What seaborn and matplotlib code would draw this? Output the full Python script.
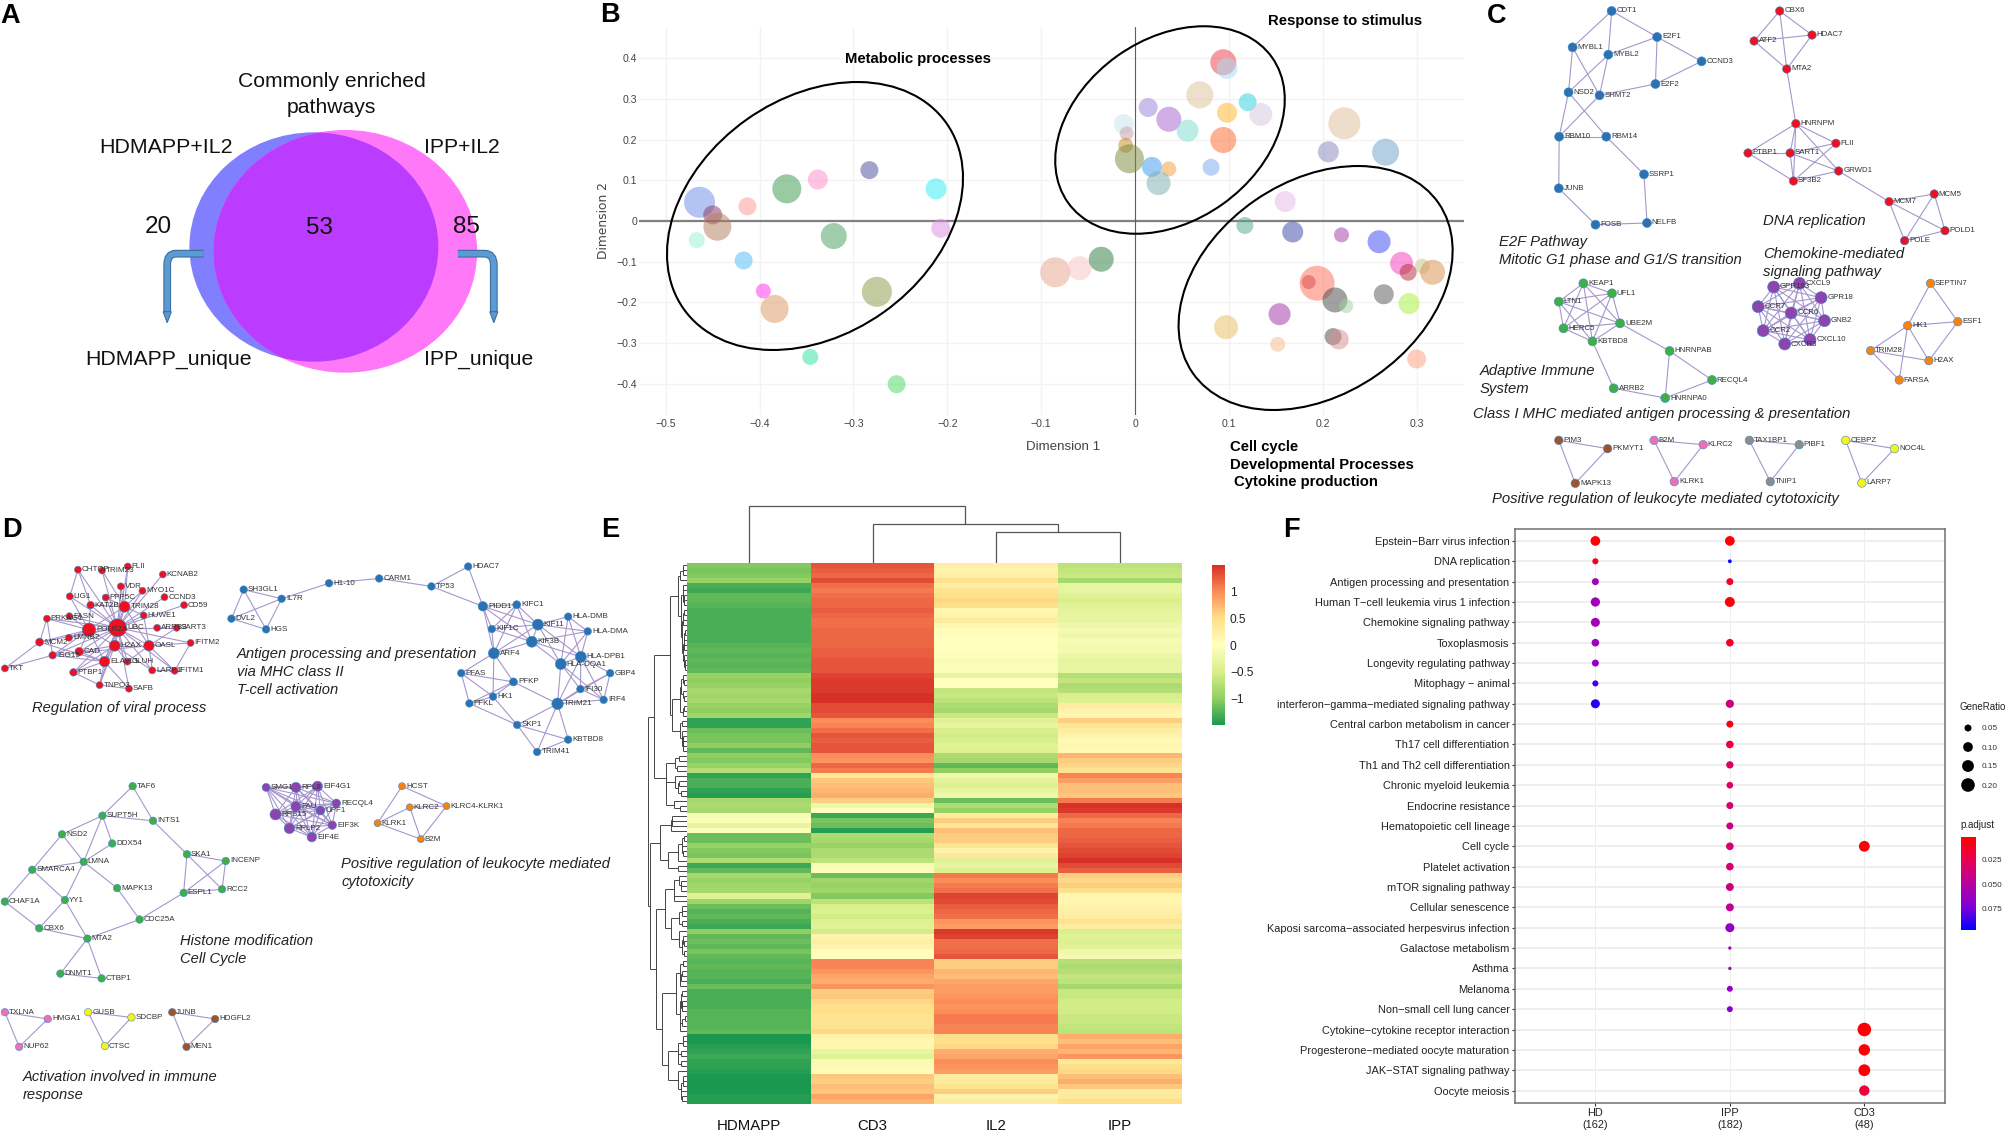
import itertools
import numpy as np
import pandas as pd
import matplotlib
matplotlib.use("Agg")
import matplotlib.pyplot as plt
from matplotlib.collections import LineCollection
from matplotlib.colors import LinearSegmentedColormap, Normalize
from matplotlib.cm import ScalarMappable
from matplotlib.patches import Ellipse, PathPatch, Polygon
from matplotlib.path import Path
import seaborn as sns

# ---------- panel A ----------
VENN_COUNTS = ["20", "53", "85"]
VENN_SET_LABELS = ["HDMAPP+IL2", "IPP+IL2"]
VENN_UNIQUE_LABELS = ["HDMAPP_unique", "IPP_unique"]

# ---------- panel B ----------
B_X = [-.464, -.450, -.445, -.413, -.467, -.417, -.396, -.384, -.371, -.338, -.283, -.321, -.275, -.212, -.207, -.346, -.254,
       -.085, -.059, -.036,
       .094, .098, .069, .120, .014, .036, .098, .134, -.012, .056, -.009, .094, -.010, -.006, .018, .036, .081, .025,
       .223, .206, .267,
       .160, .117, .168, .220, .260, .284, .306, .291, .317, .194, .185, .213, .225, .265, .292, .154, .097, .152, .211, .217, .300]
B_Y = [.046, .015, -.014, .036, -.047, -.097, -.172, -.216, .079, .102, .125, -.037, -.174, .079, -.018, -.334, -.401,
       -.126, -.116, -.094,
       .390, .375, .310, .292, .279, .250, .266, .262, .238, .222, .215, .199, .186, .153, .133, .128, .132, .093,
       .240, .170, .169,
       .048, -.011, -.027, -.034, -.051, -.104, -.111, -.126, -.126, -.153, -.150, -.194, -.209, -.180, -.203, -.229, -.261, -.303, -.284, -.291, -.339]
B_DIAM = [31, 19, 28, 18, 16, 18, 15, 28, 29, 20, 18, 26, 30, 21, 19, 16, 18,
          30, 24, 25,
          26, 21, 27, 18, 19, 25, 20, 23, 20, 22, 14, 26, 15, 29, 20, 15, 17, 24,
          32, 21, 27,
          21, 17, 21, 15, 23, 23, 15, 17, 25, 35, 14, 25, 14, 20, 21, 22, 24, 15, 17, 20, 19]
B_COLORS = ["#6E8FE8", "#8B3A62", "#B57F5F", "#FF9A90", "#9AF0D8", "#4FBFF5", "#FF33EE", "#D99B62", "#3E9A4E", "#FF8CCB", "#4B4F9C",
            "#4B9F62", "#8C9C4A", "#33EEF5", "#DD8FE0", "#2FE39E", "#4FD867",
            "#E8A68E", "#FBC4C4", "#2E8040",
            "#F0404A", "#A8DCF5", "#E0C29A", "#30D2DE", "#9A85D8", "#A765CE", "#FFB52E", "#D8C6E0", "#C9E5EC", "#7EDDD0", "#C9A0A8",
            "#FF6A30", "#C98E27", "#7F8A3C", "#3E9AF0", "#F5A040", "#7FA8EE", "#7FAFAF",
            "#DDBE9A", "#8886BE", "#6FA3CC",
            "#E8B8E8", "#58A98A", "#3E49A8", "#A23FA8", "#3E4CF5", "#F53FBE", "#C7C78E", "#B5303C", "#D9924F", "#FF6F5C", "#D8504A",
            "#4C4C4C", "#A0D0A0", "#5A5A5A", "#A8F040", "#A335A8", "#E8BE60", "#F5BE8A", "#4C4C4C", "#D99090", "#FF9F80"]
B_XTICKS = [-.5, -.4, -.3, -.2, -.1, 0, .1, .2, .3]
B_XTICKLABELS = ["\u22120.5", "\u22120.4", "\u22120.3", "\u22120.2", "\u22120.1", "0", "0.1", "0.2", "0.3"]
B_YTICKS = [-.4, -.3, -.2, -.1, 0, .1, .2, .3, .4]
B_YTICKLABELS = ["\u22120.4", "\u22120.3", "\u22120.2", "\u22120.1", "0", "0.1", "0.2", "0.3", "0.4"]

# ---------- panel C networks ----------
C_BLUE = ["CDT1", "E2F1", "MYBL1", "MYBL2", "CCND3", "E2F2", "NSD2", "SHMT2", "RBM10", "RBM14", "SSRP1", "JUNB", "FOSB", "NELFB"]
C_BLUE_X = [391, 526, 275, 381, 658, 521, 263, 355, 235, 375, 487, 234, 343, 496]
C_BLUE_Y = [33, 111, 142, 164, 184, 252, 277, 286, 410, 410, 523, 565, 674, 669]
C_BLUE_E = "CDT1:MYBL1 CDT1:MYBL2 CDT1:E2F1 E2F1:MYBL2 E2F1:E2F2 E2F1:CCND3 CCND3:E2F2 E2F2:SHMT2 MYBL1:NSD2 MYBL1:SHMT2 MYBL2:NSD2 MYBL2:SHMT2 NSD2:RBM10 NSD2:RBM14 SHMT2:RBM10 RBM10:RBM14 RBM10:JUNB RBM14:SSRP1 SSRP1:NELFB NELFB:FOSB FOSB:JUNB"
C_RED = ["CBX6", "HDAC7", "ATF2", "MTA2", "HNRNPM", "FLII", "PTBP1", "SART1", "GRWD1", "SF3B2", "MCM7", "MCM5", "POLD1", "POLE"]
C_RED_X = [890, 986, 814, 911, 938, 1057, 796, 921, 1065, 931, 1215, 1349, 1381, 1261]
C_RED_Y = [33, 105, 123, 207, 371, 430, 459, 459, 513, 543, 605, 582, 692, 722]
C_RED_E = "CBX6:ATF2 CBX6:HDAC7 CBX6:MTA2 ATF2:HDAC7 ATF2:MTA2 HDAC7:MTA2 MTA2:HNRNPM HNRNPM:FLII HNRNPM:PTBP1 HNRNPM:SART1 HNRNPM:SF3B2 HNRNPM:GRWD1 FLII:SART1 FLII:SF3B2 PTBP1:SART1 PTBP1:SF3B2 SART1:SF3B2 SART1:GRWD1 GRWD1:SF3B2 GRWD1:MCM7 MCM7:MCM5 MCM7:POLD1 MCM7:POLE MCM5:POLD1 MCM5:POLE POLD1:POLE"
C_GREEN = ["KEAP1", "UFL1", "LTN1", "UBE2M", "HERC5", "KBTBD8", "HNRNPAB", "RECQL4", "ARRB2", "HNRNPA0"]
C_GREEN_X = [307, 392, 234, 416, 248, 334, 563, 689, 397, 550]
C_GREEN_Y = [850, 880, 905, 970, 985, 1024, 1053, 1140, 1165, 1194]
C_GREEN_E = "KEAP1:UFL1 KEAP1:LTN1 KEAP1:UBE2M KEAP1:HERC5 KEAP1:KBTBD8 UFL1:LTN1 UFL1:UBE2M UFL1:HERC5 UFL1:KBTBD8 LTN1:UBE2M LTN1:HERC5 LTN1:KBTBD8 UBE2M:HERC5 UBE2M:KBTBD8 HERC5:KBTBD8 UBE2M:HNRNPAB KBTBD8:ARRB2 ARRB2:HNRNPA0 HNRNPAB:HNRNPA0 HNRNPAB:RECQL4 RECQL4:HNRNPA0"
C_PURPLE = ["GPR183", "CXCL9", "GPR18", "CCR7", "CCR6", "GNB2", "CCR2", "CXCL10", "CXCR3"]
C_PURPLE_X = [872, 949, 1013, 826, 924, 1023, 841, 980, 905]
C_PURPLE_Y = [861, 850, 893, 920, 939, 962, 992, 1019, 1032]
C_ORANGE = ["SEPTIN7", "ESF1", "HK1", "TRIM28", "H2AX", "FARSA"]
C_ORANGE_X = [1338, 1419, 1270, 1160, 1333, 1245]
C_ORANGE_Y = [850, 965, 977, 1052, 1082, 1140]
C_ORANGE_E = "SEPTIN7:HK1 SEPTIN7:ESF1 HK1:ESF1 HK1:TRIM28 HK1:H2AX HK1:FARSA ESF1:H2AX TRIM28:H2AX TRIM28:FARSA"
C_BROWN = ["PIM3", "PKMYT1", "MAPK13"]
C_BROWN_X = [234, 379, 283]
C_BROWN_Y = [1321, 1346, 1450]
C_PINK = ["B2M", "KLRC2", "KLRK1"]
C_PINK_X = [517, 663, 577]
C_PINK_Y = [1321, 1334, 1445]
C_GRAY = ["TAX1BP1", "PIBF1", "TNIP1"]
C_GRAY_X = [800, 948, 862]
C_GRAY_Y = [1321, 1334, 1445]
C_YELLOW = ["CEBPZ", "NOC4L", "LARP7"]
C_YELLOW_X = [1086, 1231, 1134]
C_YELLOW_Y = [1321, 1346, 1449]

# ---------- panel D networks ----------
D_RED = ["CHTOP", "TRIM23", "FLII", "KCNAB2", "VDR", "MYO1C", "LIG1", "PPP5C", "CCND3", "CD59", "KAT2B", "TRIM28", "FASN", "PRKAG1", "HUWE1",
         "UBC", "POLR2A", "ARRB2", "SART3", "LMNB2", "MCM2", "IFITM2", "H2AX", "OASL", "CAD", "ISG15", "ELAVL1", "GLUH", "LARP1", "IFITM1",
         "TKT", "PTBP1", "TNPO3", "SAFB"]
D_RED_X = [191, 250, 313, 399, 296, 349, 171, 259, 403, 451, 222, 305, 170, 115, 352,
           288, 218, 385, 433, 169, 97, 467, 281, 365, 194, 129, 256, 312, 373, 428,
           12, 180, 244, 316]
D_RED_Y = [150, 152, 142, 162, 192, 203, 217, 220, 219, 239, 239, 243, 267, 273, 265,
           296, 301, 296, 296, 321, 332, 334, 341, 341, 356, 365, 381, 381, 403, 404,
           398, 408, 440, 449]
D_RED_D = [7, 7, 7, 7, 7, 7, 7, 7, 7, 7, 7.5, 11, 7, 7, 7,
           18, 13.5, 7, 7, 7, 8, 7, 11, 10.5, 8.5, 7.5, 10.5, 7, 7, 7,
           7, 7.5, 7, 7]
D_RED_HUBS = {
    "UBC": "CHTOP TRIM23 FLII KCNAB2 VDR MYO1C LIG1 PPP5C CCND3 CD59 KAT2B TRIM28 FASN PRKAG1 HUWE1 POLR2A ARRB2 SART3 LMNB2 MCM2 IFITM2 H2AX OASL CAD ISG15 ELAVL1 GLUH LARP1 IFITM1 PTBP1 TNPO3 SAFB",
    "POLR2A": "FASN PRKAG1 LMNB2 MCM2 ISG15 CAD ELAVL1 H2AX KAT2B TRIM28 LIG1",
    "TRIM28": "VDR FLII PPP5C KAT2B HUWE1 H2AX ELAVL1 OASL MYO1C TRIM23",
    "H2AX": "ELAVL1 OASL CAD TNPO3 GLUH LARP1 PTBP1",
    "OASL": "IFITM2 IFITM1 LARP1 ISG15 SART3 GLUH HUWE1",
    "ELAVL1": "PTBP1 TNPO3 SAFB ISG15 MCM2 CAD",
    "TKT": "MCM2 ISG15",
    "CHTOP": "LIG1 KAT2B",
    "IFITM1": "IFITM2 LARP1",
    "TNPO3": "PTBP1 SAFB",
    "PRKAG1": "MCM2 ISG15",
}
D_BLUE = ["SH3GL1", "IL7R", "DVL2", "HGS", "H1-10", "CARM1", "TP53", "HDAC7", "PIDD1", "KIFC1", "HLA-DMB", "KIF11", "HLA-DMA", "KIF1C", "KIF3B",
          "ARF4", "HLA-DPB1", "HLA-DQA1", "PFAS", "GBP4", "PFKP", "IFI30", "HK1", "IRF4", "PFKL", "TRIM21", "SKP1", "KBTBD8", "TRIM41"]
D_BLUE_X = [597, 690, 567, 652, 806, 929, 1057, 1147, 1183, 1266, 1392, 1318, 1440, 1205, 1303,
            1210, 1423, 1374, 1130, 1495, 1258, 1422, 1208, 1479, 1150, 1366, 1267, 1392, 1316]
D_BLUE_Y = [200, 223, 273, 300, 184, 172, 192, 142, 242, 238, 268, 288, 305, 299, 331,
            360, 369, 387, 410, 410, 432, 450, 469, 477, 486, 487, 540, 577, 608]
D_BLUE_D = [7.5, 7.5, 7.5, 7.5, 7.5, 7.5, 7.5, 7.5, 9.5, 8, 7.5, 11, 7.5, 7.5, 11,
            11, 11, 11, 7.5, 7.5, 8, 7.5, 7.5, 7.5, 7.5, 11.5, 7.5, 7.5, 7.5]
D_BLUE_E = "SH3GL1:IL7R SH3GL1:DVL2 SH3GL1:HGS IL7R:DVL2 IL7R:HGS DVL2:HGS IL7R:H1-10 H1-10:CARM1 CARM1:TP53 TP53:HDAC7 TP53:PIDD1 HDAC7:PIDD1 PIDD1:KIFC1 PIDD1:KIF11 PIDD1:KIF1C PIDD1:KIF3B PIDD1:ARF4 KIFC1:KIF11 KIFC1:KIF1C KIFC1:KIF3B KIFC1:ARF4 KIF11:KIF1C KIF11:KIF3B KIF11:ARF4 KIF1C:KIF3B KIF1C:ARF4 KIF3B:ARF4 ARF4:HK1 ARF4:PFAS ARF4:PFKP KIF11:HLA-DMB KIF11:HLA-DMA KIF11:HLA-DPB1 KIF11:HLA-DQA1 KIF3B:HLA-DMA KIF3B:HLA-DPB1 KIF3B:HLA-DQA1 HLA-DMB:HLA-DMA HLA-DMB:HLA-DPB1 HLA-DMB:HLA-DQA1 HLA-DMA:HLA-DPB1 HLA-DMA:HLA-DQA1 HLA-DPB1:HLA-DQA1 HLA-DPB1:IFI30 HLA-DPB1:GBP4 HLA-DPB1:IRF4 HLA-DQA1:IFI30 HLA-DQA1:TRIM21 HLA-DQA1:IRF4 HLA-DPB1:TRIM21 GBP4:IFI30 GBP4:IRF4 GBP4:TRIM21 IFI30:IRF4 IFI30:TRIM21 IRF4:TRIM21 TRIM21:SKP1 TRIM21:KBTBD8 TRIM21:TRIM41 SKP1:KBTBD8 SKP1:TRIM41 KBTBD8:TRIM41 PFKP:TRIM21 PFAS:PFKP PFAS:HK1 PFAS:PFKL PFKP:HK1 PFKP:PFKL HK1:PFKL HK1:SKP1 PFKL:SKP1"
D_GREEN = ["TAF6", "SUPT5H", "INTS1", "NSD2", "DDX54", "SKA1", "INCENP", "LMNA", "SMARCA4", "MAPK13", "RCC2", "ESPL1", "CHAF1A", "YY1", "CDC25A", "CBX6", "MTA2", "DNMT1", "CTBP1"]
D_GREEN_X = [325, 251, 375, 152, 275, 458, 553, 205, 79, 287, 544, 450, 12, 159, 342, 96, 214, 148, 249]
D_GREEN_Y = [694, 768, 781, 815, 838, 865, 882, 884, 904, 950, 953, 962, 984, 980, 1029, 1051, 1077, 1165, 1177]
D_GREEN_E = "TAF6:SUPT5H TAF6:INTS1 SUPT5H:INTS1 SUPT5H:NSD2 SUPT5H:DDX54 SUPT5H:LMNA NSD2:LMNA NSD2:SMARCA4 DDX54:LMNA LMNA:SMARCA4 LMNA:MAPK13 LMNA:YY1 SMARCA4:CHAF1A SMARCA4:YY1 CHAF1A:CBX6 YY1:CBX6 YY1:MTA2 CBX6:MTA2 MTA2:CDC25A MTA2:DNMT1 MTA2:CTBP1 DNMT1:CTBP1 MAPK13:CDC25A CDC25A:ESPL1 ESPL1:SKA1 ESPL1:INCENP ESPL1:RCC2 SKA1:INCENP SKA1:RCC2 INCENP:RCC2 INTS1:SKA1"
D_PURPLE = ["SMG1", "RPL8", "EIF4G1", "RECQL4", "FAU", "UPF1", "RPS15", "EIF3K", "RPLP2", "EIF4E"]
D_PURPLE_X = [652, 725, 778, 824, 725, 785, 675, 814, 709, 764]
D_PURPLE_Y = [697, 697, 694, 737, 745, 755, 765, 792, 800, 822]
D_PURPLE_D = [8, 10, 10, 8.5, 10, 9, 11, 8.5, 10.5, 9.5]
D_ORANGE = ["HCST", "KLRC2", "KLRC4-KLRK1", "KLRK1", "B2M"]
D_ORANGE_X = [985, 1004, 1094, 925, 1031]
D_ORANGE_Y = [694, 747, 744, 787, 827]
D_ORANGE_E = "HCST:KLRC4-KLRK1 HCST:KLRK1 KLRC2:KLRC4-KLRK1 KLRC2:KLRK1 KLRC2:B2M KLRC4-KLRK1:B2M KLRK1:B2M"
D_PINK = ["TXLNA", "HMGA1", "NUP62"]
D_PINK_X = [12, 117, 47]
D_PINK_Y = [1262, 1279, 1349]
D_YELLOW = ["GUSB", "SDCBP", "CTSC"]
D_YELLOW_X = [216, 322, 257]
D_YELLOW_Y = [1262, 1275, 1347]
D_BROWN = ["JUNB", "HDGFL2", "MEN1"]
D_BROWN_X = [422, 527, 457]
D_BROWN_Y = [1262, 1279, 1349]

# ---------- panel E ----------
E_COLUMNS = ["HDMAPP", "CD3", "IL2", "IPP"]
E_HDMAPP = [-1.05, -1.1, -1.05, -.95, -1.3, -1.35, -1.2, -1.2, -1.25, -1.3, -1.3, -1.3, -1.3, -1.3, -1.3, -1.3, -1.25, -1.2, -1.25, -1.2, -1.25, -1.2,
            -.95, -1, -.95, -.85, -.9, -.85, -.95, -1.0, -.9,
            -1.4, -1.4, -1.15, -1.1, -1.1, -1.0, -1.2,
            -1.0, -1.05, -.95, -.75,
            -1.4, -1.3, -1.3, -1.4, -1.45,
            -.85, -.8, -.85,
            -.1, -.05, -.3, -.05,
            -1.15, -1.15, -.95, -1.05, -1.1, -.8, -1.35, -1.2,
            -.85, -.95, -.9, -.85, -.4, -.9, -1.15, -1.25, -1.2, -1.3, -1.35, -1.0, -1.2, -1.15, -1.2, -1.1, -1.2,
            -1.25, -1.2, -1.25, -1.25, -1.3, -1.15, -1.3, -1.3, -1.3, -1.3, -1.25, -1.25, -1.25, -1.25, -1.2,
            -1.5, -1.5, -1.45, -1.4, -1.35, -1.4, -1.4, -1.45,
            -1.5, -1.5, -1.5, -1.5, -1.45, -1.45]
E_CD3 = [1.3, 1.25, 1.2, 1.35, 1.15, 1.1, 1.15, 1.2, 1.2, 1.25, 1.2, 1.15, 1.15, 1.2, 1.2, 1.2, 1.2, 1.25, 1.25, 1.3, 1.3, 1.3,
         1.4, 1.45, 1.45, 1.45, 1.55, 1.55, 1.35, 1.35, 1.3,
         1.0, 1.05, 1.15, 1.3, 1.25, 1.3, 1.3,
         1.0, .95, 1.2, 1.1,
         .4, .65, .7, .75, .8,
         .6, -.2, 0,
         -1.35, -1.1, -1.15, -1.45,
         -.8, -.85, -.95, -.8, -.8, -.7, -.1, -.05,
         -1.15, -.9, -.95, -.9, -1.05, -.7, -.5, -.45, -.55, -.45, -.4, -.55, .2, .25, .2, .02, .02,
         1.05, 1.05, .95, .85, .8, .95, .6, .65, .55, .5, .5, .45, .45, .45, .55,
         .2, .15, .15, -.3, -.4, -.1, .1, .05,
         .65, .6, .7, .65, .85, .75]
E_IL2 = [.25, .2, .25, .45, .3, .45, .5, .55, .5, .15, .2, .3, .15, .05, .02, 0, .02, -.02, -.05, -.1, -.08, -.05,
         -.3, 0, .02, -.65, -.6, -.7, -.8, -.85, -.6,
         -.4, -.3, -.5, -.55, -.5, -.4, -.45,
         -.8, -.85, -1.2, -1.0,
         -.2, -.35, -.45, -.3, -.2,
         -1.15, -.8, -.95,
         .3, .6, .4, .7,
         .6, .6, .45, .2, .35, -.4, -.3, -.45,
         1.1, 1.0, 1.1, 1.15, 1.4, 1.35, 1.25, 1.2, 1.15, .95, .9, 1.45, 1.4, 1.15, 1.15, 1.2, 1.3,
         .6, .6, .75, .7, .85, .9, .9, .95, 1.0, .95, 1.0, 1.1, 1.1, 1.05, 1.05,
         .5, .5, .55, .8, .85, 1.0, .95, .9,
         .3, .35, .45, .6, .2, .3]
E_IPP = [-.7, -.65, -.6, -.85, -.3, -.3, -.4, -.5, -.4, -.35, -.3, -.3, -.2, -.15, -.2, -.1, -.15, -.15, -.25, -.3, -.3, -.3,
         -.75, -.65, -.8, -.75, -.5, -.45, .3, .2, .15,
         .6, .4, .3, .2, .1, .15, .1,
         .75, .6, .55, .45,
         1.05, .9, .7, .7, .65,
         1.1, 1.5, 1.45,
         1.2, 1.05, 1.1, 1.2,
         1.2, 1.25, 1.3, 1.35, 1.4, 1.5, 1.35, 1.25,
         .6, .55, .6, .5, .15, .15, .2, .25, .3, .45, .3, -.5, -.4, -.45, -.4, -.2, -.15,
         -.75, -.8, -.75, -.65, -.7, -.85, -.6, -.6, -.55, -.55, -.55, -.6, -.6, -.65, -.7,
         .8, .7, .85, .75, .95, .35, .5, .55,
         .7, .8, .65, .3, .35, .5]
E_COLOR_STOPS = ["#1A9850", "#91CF60", "#D9EF8B", "#FFFFBF", "#FEE08B", "#FC8D59", "#D73027"]
E_COL_MERGE_HEIGHTS = [30.7, 38.4, 56.7]
E_CBAR_TICKS = [-1, -.5, 0, .5, 1]
E_CBAR_LABELS = ["\u22121", "\u22120.5", "0", "0.5", "1"]

# ---------- panel F ----------
F_TERMS = ["Epstein\u2212Barr virus infection", "DNA replication", "Antigen processing and presentation",
           "Human T\u2212cell leukemia virus 1 infection", "Chemokine signaling pathway", "Toxoplasmosis",
           "Longevity regulating pathway", "Mitophagy \u2212 animal", "interferon\u2212gamma\u2212mediated signaling pathway",
           "Central carbon metabolism in cancer", "Th17 cell differentiation", "Th1 and Th2 cell differentiation",
           "Chronic myeloid leukemia", "Endocrine resistance", "Hematopoietic cell lineage", "Cell cycle",
           "Platelet activation", "mTOR signaling pathway", "Cellular senescence",
           "Kaposi sarcoma\u2212associated herpesvirus infection", "Galactose metabolism", "Asthma", "Melanoma",
           "Non\u2212small cell lung cancer", "Cytokine\u2212cytokine receptor interaction",
           "Progesterone\u2212mediated oocyte maturation", "JAK\u2212STAT signaling pathway", "Oocyte meiosis"]
F_GROUPS = ["HD\n(162)", "IPP\n(182)", "CD3\n(48)"]
F_HD_TERM = [0, 1, 2, 3, 4, 5, 6, 7, 8]
F_HD_RATIO = [.10, .037, .05, .09, .085, .06, .05, .037, .085]
F_HD_P = [.003, .012, .06, .06, .058, .06, .065, .085, .09]
F_IPP_TERM = [0, 1, 2, 3, 5, 8, 9, 10, 11, 12, 13, 14, 15, 16, 17, 18, 19, 20, 21, 22, 23]
F_IPP_RATIO = [.10, .012, .05, .105, .06, .07, .05, .06, .055, .045, .05, .05, .06, .06, .065, .065, .085, .008, .008, .035, .035]
F_IPP_P = [.003, .095, .012, .004, .012, .04, .006, .022, .032, .033, .036, .04, .035, .035, .04, .045, .065, .06, .06, .065, .07]
F_CD3_TERM = [15, 24, 25, 26, 27]
F_CD3_RATIO = [.125, .20, .14, .15, .115]
F_CD3_P = [.003, .002, .002, .002, .02]
F_LEGEND_RATIO = [.05, .10, .15, .20]
F_P_TICKS = [.025, .05, .075]

# ---------- set up ----------
W, H = 2008, 1134
sns.set_theme(style="white")
plt.rcParams["font.family"] = ["Liberation Sans", "DejaVu Sans"]
plt.rcParams["axes.unicode_minus"] = True
fig = plt.figure(figsize=(W / 100, H / 100), dpi=100, facecolor="white")


def px_axes(x0, y0, w, h, **kw):
    return fig.add_axes([x0 / W, 1 - (y0 + h) / H, w / W, h / H], **kw)


def area(d_px):
    return (np.asarray(d_px, dtype=float) * 0.72) ** 2


TXT = "#222222"

# ---------- A ----------
axA = px_axes(0, 0, 580, 420)
axA.set_xlim(0, 1568)
axA.set_ylim(1260, 0)
axA.axis("off")
blue = Ellipse((848.5, 741), 673, 688, fc="#8080FF", ec="none", zorder=1)
pink = Ellipse((933.5, 754), 713, 728, fc="#FF78F8", ec="none", zorder=2)
axA.add_patch(blue)
axA.add_patch(pink)
over = Ellipse((848.5, 741), 673, 688, fc="#BB3BFF", ec="none", zorder=3)
axA.add_patch(over)
over.set_clip_path(pink)
for verts in ([(550, 761), (475, 761), (452, 761), (452, 795), (452, 935)],
              [(1238, 761), (1310, 761), (1335, 761), (1335, 795), (1335, 935)]):
    p = Path(verts, [Path.MOVETO, Path.LINETO, Path.CURVE3, Path.CURVE3, Path.LINETO])
    axA.add_patch(PathPatch(p, fc="none", ec="#3E6E99", lw=5.6, capstyle="butt", zorder=4))
    axA.add_patch(PathPatch(p, fc="none", ec="#5B9BD5", lw=4.0, capstyle="butt", zorder=5))
    tx = verts[-1][0]
    axA.add_patch(Polygon([(tx - 11, 935), (tx + 11, 935), (tx, 968)], fc="#5B9BD5", ec="#3E6E99", lw=.8, zorder=5))
for txt, x, y in zip(VENN_COUNTS, [429, 863, 1261], [682, 684, 682]):
    axA.text(x, y, txt, ha="center", va="center", fontsize=17.5, color="#111", zorder=6)
axA.text(897, 245, "Commonly enriched", ha="center", va="center", fontsize=15.2, color="#111")
axA.text(897, 322, "pathways", ha="center", va="center", fontsize=15.2, color="#111")
axA.text(268, 443, VENN_SET_LABELS[0], ha="left", va="center", fontsize=15.4, color="#111")
axA.text(1147, 443, VENN_SET_LABELS[1], ha="left", va="center", fontsize=15.2, color="#111", zorder=6)
axA.text(231, 1077, VENN_UNIQUE_LABELS[0], ha="left", va="center", fontsize=15.3, color="#111", zorder=6)
axA.text(1147, 1077, VENN_UNIQUE_LABELS[1], ha="left", va="center", fontsize=15.2, color="#111", zorder=6)

# ---------- B ----------
axB = px_axes(639, 27, 825, 388)
dfB = pd.DataFrame({"x": B_X, "y": B_Y, "id": range(len(B_X)), "a": area(B_DIAM)})
sns.scatterplot(data=dfB, x="x", y="y", hue="id", palette=dict(enumerate(B_COLORS)), s=dfB["a"].values, alpha=.52,
                linewidth=0, legend=False, ax=axB, zorder=3)
axB.set_xlim(-.5285, .3505)
axB.set_ylim(-.4767, .4767)
axB.set_xticks(B_XTICKS, B_XTICKLABELS)
axB.set_yticks(B_YTICKS, B_YTICKLABELS)
axB.tick_params(length=0, labelsize=7.6, labelcolor="#444444")
axB.tick_params(axis="x", pad=3)
axB.tick_params(axis="y", pad=1.5)
axB.grid(True, color="#F3F3F3", lw=1)
axB.set_axisbelow(True)
for s in axB.spines.values():
    s.set_visible(False)
axB.axhline(0, color="#808080", lw=1.6, zorder=2)
axB.axvline(0, color="#606060", lw=.8, zorder=2)
axB.set_xlabel("Dimension 1", fontsize=9.6, color="#444444")
axB.set_ylabel("Dimension 2", fontsize=8.8, color="#444444", family="DejaVu Sans")
axB.xaxis.set_label_coords(.514, -.068)
axB.yaxis.set_label_coords(-.035, .5)


# ---------- networks ----------
EDGE = "#A596CC"
NODE_EDGE = "#3A8CC6"


def parse(s):
    return [tuple(t.split(":")) for t in s.split()]


def network(ax, names, xs, ys, diam, color, edges, pxscale, fs=5.8):
    pos = dict(zip(names, zip(xs, ys)))
    segs = [(pos[a], pos[b]) for a, b in edges]
    ax.add_collection(LineCollection(segs, colors=EDGE, linewidths=.8, zorder=1))
    d = np.full(len(names), diam, dtype=float) if np.isscalar(diam) else np.asarray(diam, dtype=float)
    sns.scatterplot(x=list(xs), y=list(ys), s=area(d), color=color, edgecolor=NODE_EDGE, linewidth=.4,
                    legend=False, ax=ax, zorder=2)
    for n, x, y, dd in zip(names, xs, ys, d):
        ax.text(x + dd / 2 * pxscale + 1, y, n, fontsize=fs, va="center", ha="left", color="#333333", zorder=3)


axC = px_axes(1480, 0, 528, 510)
SC = 1568 / 528
network(axC, C_BLUE, C_BLUE_X, C_BLUE_Y, 9, "#2C72B3", parse(C_BLUE_E), SC, 5.7)
network(axC, C_RED, C_RED_X, C_RED_Y, 8.5, "#EE1020", parse(C_RED_E), SC, 5.7)
network(axC, C_GREEN, C_GREEN_X, C_GREEN_Y, 9, "#3FAE49", parse(C_GREEN_E), SC, 5.7)
network(axC, C_PURPLE, C_PURPLE_X, C_PURPLE_Y, 12, "#8E44AD", list(itertools.combinations(C_PURPLE, 2)), SC, 5.7)
network(axC, C_ORANGE, C_ORANGE_X, C_ORANGE_Y, 8.5, "#F7820F", parse(C_ORANGE_E), SC, 5.7)
for names, xs, ys, col in ((C_BROWN, C_BROWN_X, C_BROWN_Y, "#A0522D"), (C_PINK, C_PINK_X, C_PINK_Y, "#F06EB4"),
                           (C_GRAY, C_GRAY_X, C_GRAY_Y, "#8C8C8C"), (C_YELLOW, C_YELLOW_X, C_YELLOW_Y, "#F7F21E")):
    network(axC, names, xs, ys, 8.5, col, list(itertools.combinations(names, 2)), SC, 5.7)
C_TEXTS = [("E2F Pathway", 55, 726), ("Mitotic G1 phase and G1/S transition", 55, 780), ("DNA replication", 840, 662),
           ("Chemokine-mediated", 840, 762), ("signaling pathway", 840, 816), ("Adaptive Immune", 0, 1114), ("System", 0, 1168),
           ("Class I MHC mediated antigen processing & presentation", -20, 1241),
           ("Positive regulation of leukocyte mediated cytotoxicity", 37, 1497)]
for t, x, y in C_TEXTS:
    axC.text(x, y, t, style="italic", fontsize=10.7, va="center", ha="left", color=TXT, clip_on=False)
axC.set_xlim(0, 1568)
axC.set_ylim(1530, 0)
axC.axis("off")

axD = px_axes(0, 510, 640, 624)
SD = 1568 / 640
d_red_edges = [(h, t) for h, ts in D_RED_HUBS.items() for t in ts.split()]
network(axD, D_RED, D_RED_X, D_RED_Y, D_RED_D, "#EE1020", d_red_edges, SD, 5.8)
network(axD, D_BLUE, D_BLUE_X, D_BLUE_Y, D_BLUE_D, "#2C72B3", parse(D_BLUE_E), SD, 5.8)
network(axD, D_GREEN, D_GREEN_X, D_GREEN_Y, 7.5, "#3FAE49", parse(D_GREEN_E), SD, 5.8)
network(axD, D_PURPLE, D_PURPLE_X, D_PURPLE_Y, D_PURPLE_D, "#8E44AD", list(itertools.combinations(D_PURPLE, 2)), SD, 5.8)
network(axD, D_ORANGE, D_ORANGE_X, D_ORANGE_Y, 7, "#F7820F", parse(D_ORANGE_E), SD, 5.8)
for names, xs, ys, col in ((D_PINK, D_PINK_X, D_PINK_Y, "#F06EB4"), (D_YELLOW, D_YELLOW_X, D_YELLOW_Y, "#F7F21E"),
                           (D_BROWN, D_BROWN_X, D_BROWN_Y, "#A0522D")):
    network(axD, names, xs, ys, 7.5, col, list(itertools.combinations(names, 2)), SD, 5.8)
D_TEXTS = [("Regulation of viral process", 78, 498), ("Antigen processing and presentation", 580, 362), ("via MHC class II", 580, 407),
           ("T-cell activation", 580, 452), ("Positive regulation of leukocyte mediated", 836, 890), ("cytotoxicity", 836, 935),
           ("Histone modification", 441, 1083), ("Cell Cycle", 441, 1128), ("Activation involved in immune", 55, 1424), ("response", 55, 1469)]
for t, x, y in D_TEXTS:
    axD.text(x, y, t, style="italic", fontsize=10.65, va="center", ha="left", color=TXT, clip_on=False)
axD.set_xlim(0, 1568)
axD.set_ylim(1568, 0)
axD.axis("off")

# ---------- E ----------
axE = px_axes(687, 562.7, 495, 541.3)
caxE = px_axes(1212, 565, 13, 160)
dfE = pd.DataFrame({"HDMAPP": E_HDMAPP, "CD3": E_CD3, "IL2": E_IL2, "IPP": E_IPP})[E_COLUMNS]
cmapE = LinearSegmentedColormap.from_list("rdylgn7", E_COLOR_STOPS, N=256)
sns.heatmap(dfE, cmap=cmapE, vmin=-1.5, vmax=1.5, ax=axE, cbar_ax=caxE, yticklabels=False,
            cbar_kws={"ticks": E_CBAR_TICKS})
axE.set_ylabel("")
axE.tick_params(axis="x", length=0, labelsize=10.8, pad=11, labelcolor="#111111", rotation=0)
caxE.set_yticklabels(E_CBAR_LABELS)
caxE.tick_params(length=0, labelsize=8.6, pad=3.6, labelcolor="#222222")

# column dendrogram
axCD = px_axes(687, 500, 495, 62.7)
axCD.set_xlim(0, 4)
axCD.set_ylim(0, 62.7)
axCD.axis("off")
h1, h2, h3 = E_COL_MERGE_HEIGHTS
xa, xb = 2.5, 3.5
xm1 = (xa + xb) / 2
xm2 = (1.5 + xm1) / 2
for px, py in (([xa, xa, xb, xb], [0, h1, h1, 0]), ([1.5, 1.5, xm1, xm1], [0, h2, h2, h1]), ([.5, .5, xm2, xm2], [0, h3, h3, h2])):
    axCD.plot(px, py, color="#555555", lw=.9, solid_joinstyle="miter")


# row dendrogram: the block tree follows the figure, the merges inside a block follow the row values
def leaf(x, r0, r1):
    return ("leaf", x, r0, r1)


ROW_TREE = (648.4,
            (654.5,
             (669.8, (677.8, leaf(680, 0, 4), leaf(681, 4, 22)), (672, leaf(680, 22, 31), leaf(680, 31, 38))),
             (665.7, leaf(675.3, 38, 42), (666.4, leaf(675.3, 42, 47), leaf(674, 47, 50)))),
            (650,
             (660.5, leaf(671, 50, 54), (668.4, leaf(678, 54, 60), leaf(678, 60, 62))),
             (656.4,
              (665, leaf(674, 62, 68), (671, leaf(679.5, 68, 73), leaf(679.5, 73, 79))),
              (662, (676, leaf(680, 79, 85), leaf(680, 85, 94)), (668.4, leaf(678, 94, 101), leaf(678, 101, 108))))))

axRD = px_axes(645, 562.7, 42, 541.3)
axRD.set_xlim(645, 687)
axRD.set_ylim(108, 0)
axRD.axis("off")
rd_segs = []
vals = dfE.values


def draw_leaf(xroot, r0, r1):
    cl = [{"y": i + .5, "h": 0.0, "v": vals[i].copy(), "n": 1, "kids": None} for i in range(r0, r1)]
    while len(cl) > 1:
        ds = [np.linalg.norm(cl[i]["v"] - cl[i + 1]["v"]) for i in range(len(cl) - 1)]
        i = int(np.argmin(ds))
        a, b = cl[i], cl[i + 1]
        n = a["n"] + b["n"]
        cl[i:i + 2] = [{"y": (a["y"] + b["y"]) / 2, "h": max(ds[i], a["h"], b["h"]) + .01,
                        "v": (a["v"] * a["n"] + b["v"] * b["n"]) / n, "n": n, "kids": (a, b)}]
    root = cl[0]
    hmax = max(root["h"], 1e-6)

    def xof(nd):
        return 687 - np.sqrt(nd["h"] / hmax) * (687 - xroot)

    def rec(nd):
        if nd["kids"]:
            x = xof(nd)
            a, b = nd["kids"]
            rd_segs.append([(x, a["y"]), (x, b["y"])])
            for k in (a, b):
                rd_segs.append([(x, k["y"]), (xof(k), k["y"])])
                rec(k)
    rec(root)
    return xroot, root["y"]


def draw_tree(node):
    if node[0] == "leaf":
        return draw_leaf(node[1], node[2], node[3])
    x = node[0]
    xa_, ya_ = draw_tree(node[1])
    xb_, yb_ = draw_tree(node[2])
    rd_segs.append([(x, ya_), (x, yb_)])
    rd_segs.append([(x, ya_), (xa_, ya_)])
    rd_segs.append([(x, yb_), (xb_, yb_)])
    return x, (ya_ + yb_) / 2


draw_tree(ROW_TREE)
axRD.add_collection(LineCollection(rd_segs, colors="#444444", linewidths=.7))

# ---------- F ----------
cmapF = LinearSegmentedColormap.from_list("padj", ["#FF0000", "#E80050", "#B800A0", "#8000D8", "#0000FF"], N=256)
normF = Normalize(.0012, .0975)
axF = px_axes(1514.7, 528.7, 430.3, 574.1)
dfF = pd.DataFrame({
    "group": [0] * len(F_HD_TERM) + [1] * len(F_IPP_TERM) + [2] * len(F_CD3_TERM),
    "term": F_HD_TERM + F_IPP_TERM + F_CD3_TERM,
    "ratio": F_HD_RATIO + F_IPP_RATIO + F_CD3_RATIO,
    "p": F_HD_P + F_IPP_P + F_CD3_P,
})
sns.scatterplot(data=dfF, x="group", y="term", size="ratio", sizes=(1.87, 96), size_norm=(0, .20),
                hue="p", hue_norm=normF, palette=cmapF, linewidth=0, legend=False, ax=axF, zorder=3)
axF.set_xlim(-.6, 2.6)
axF.set_ylim(27.6, -.6)
axF.set_xticks(range(3), F_GROUPS)
axF.set_yticks(range(len(F_TERMS)), F_TERMS)
axF.set_xlabel("")
axF.set_ylabel("")
axF.tick_params(axis="y", length=2.2, width=.8, color="#333333", labelsize=7.9, labelcolor="#222222", pad=1.5, left=True)
axF.tick_params(axis="x", length=2.2, width=.8, color="#333333", labelsize=7.9, labelcolor="#222222", pad=1.5, bottom=True)
axF.grid(True, axis="y", color="#EEEEEE", lw=1.4)
axF.grid(True, axis="x", color="#EEEEEE", lw=.7)
axF.set_axisbelow(True)
for s in axF.spines.values():
    s.set_visible(True)
    s.set_color("#707070")
    s.set_linewidth(1.1)

axL = px_axes(1960, 718.5, 16, 76)
sns.scatterplot(x=[.5] * 4, y=list(range(4)), size=F_LEGEND_RATIO, sizes=(1.87, 96), size_norm=(0, .20), color="black",
                linewidth=0, legend=False, ax=axL)
axL.set_xlim(0, 1)
axL.set_ylim(3.5, -.5)
axL.set_xticks([])
axL.yaxis.tick_right()
axL.set_yticks(range(4), [f"{v:.2f}" for v in F_LEGEND_RATIO])
axL.tick_params(axis="y", length=0, labelsize=5.9, pad=4, labelcolor="#333333", right=False)
axL.set_xlabel("")
axL.set_ylabel("")
for s in axL.spines.values():
    s.set_visible(False)

caxF = px_axes(1961, 836.7, 15, 93.6)
cb = fig.colorbar(ScalarMappable(norm=normF, cmap=cmapF), cax=caxF, ticks=F_P_TICKS)
caxF.invert_yaxis()
cb.outline.set_visible(False)
caxF.set_yticklabels([f"{v:.3f}" for v in F_P_TICKS])
caxF.tick_params(length=2, width=.5, color="white", direction="in", labelsize=5.9, pad=4, labelcolor="#333333")

# ---------- overlay: ellipses, panel letters, annotations ----------
canvas = px_axes(0, 0, W, H)
canvas.set_xlim(0, W)
canvas.set_ylim(H, 0)
canvas.axis("off")
canvas.patch.set_alpha(0)
for (cx, cy, a_, b_, ang) in ((815, 216, 321.8, 236.4, -35.3), (1170, 130, 250.4, 181.8, -35.5), (1315.6, 288, 298.8, 213, -34.6)):
    canvas.add_patch(Ellipse((cx, cy), a_, b_, angle=ang, fc="none", ec="#000000", lw=1.5))
for t, x, y in (("A", 0, 16), ("B", 600, 15), ("C", 1487, 16), ("D", 2, 530), ("E", 601, 530), ("F", 1283, 530)):
    canvas.text(x, y, t, fontsize=19.5, fontweight="bold", ha="left", va="center", color="black")
for t, x, y, fs in (("Metabolic processes", 845, 58.7, 10.75), ("Response to stimulus", 1268, 21, 10.75), ("Cell cycle", 1230, 447, 10.75),
                    ("Developmental Processes", 1230, 465, 10.75), ("Cytokine production", 1234, 482, 10.75)):
    canvas.text(x, y, t, fontsize=fs, fontweight="bold", ha="left", va="center", color="black")
canvas.text(1960, 707, "GeneRatio", fontsize=7, ha="left", va="center", color="#222222")
canvas.text(1960, 825.5, "p.adjust", fontsize=7, ha="left", va="center", color="#222222")

fig.savefig("out.png", dpi=100, facecolor="white")
